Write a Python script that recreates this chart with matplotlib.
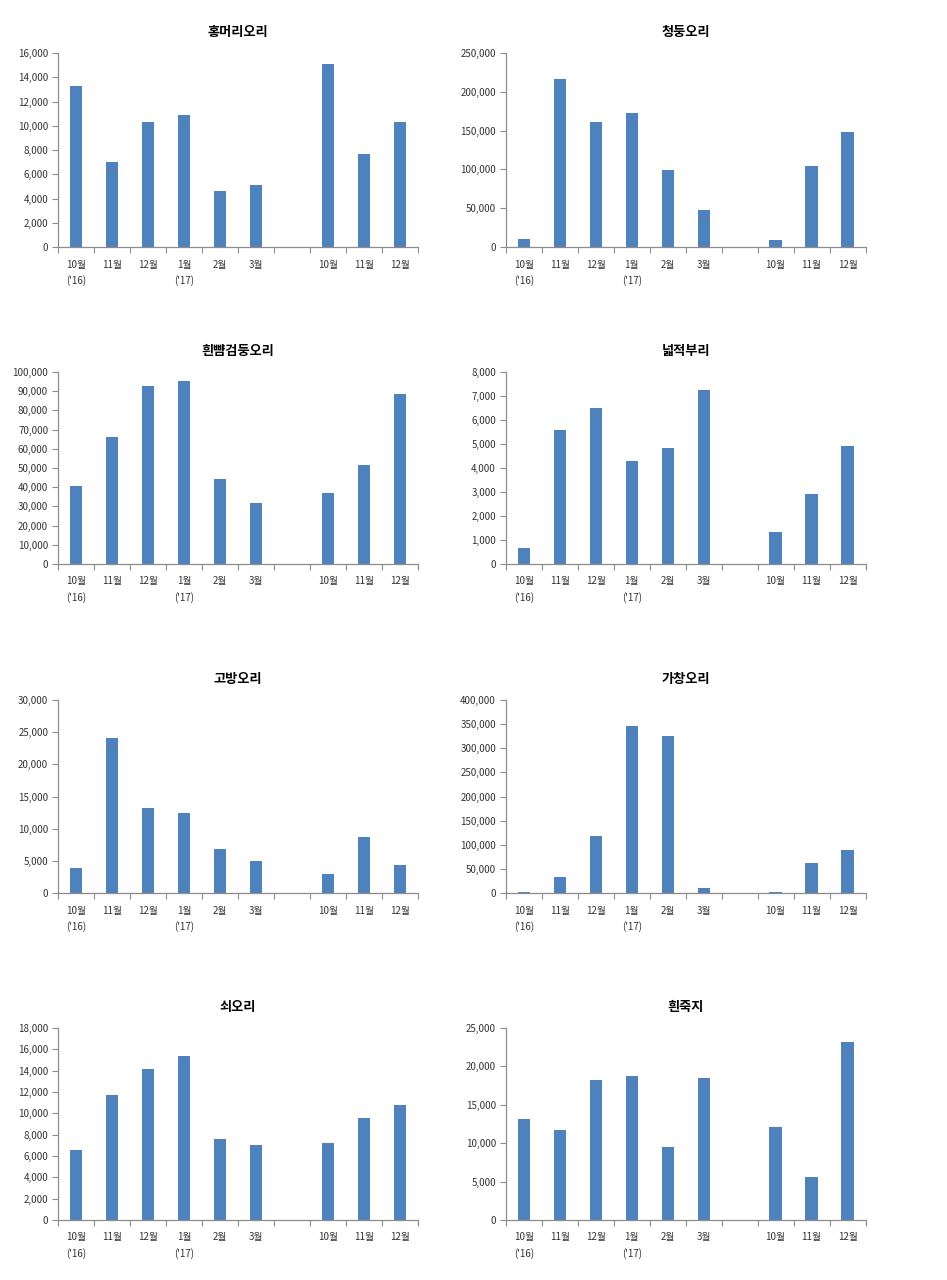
import numpy as np
import matplotlib
matplotlib.use("Agg")
import matplotlib.pyplot as plt
from matplotlib.ticker import FuncFormatter, FixedLocator

plt.rcParams['font.family'] = ['Noto Sans CJK KR', 'DejaVu Sans']

months = ["10월\n('16)", "11월", "12월", "1월\n('17)", "2월", "3월", "", "10월", "11월", "12월"]
gap = np.nan

species = ["홍머리오리", "청둥오리", "흰뺨검둥오리", "넓적부리",
           "고방오리", "가창오리", "쇠오리", "흰죽지"]

wigeon = [13300, 7000, 10300, 10900, 4650, 5100, gap, 15100, 7650, 10350]
mallard = [10000, 216500, 160700, 172300, 98800, 47300, gap, 8600, 104800, 147800]
spotbill = [40700, 66200, 92700, 95300, 44500, 31500, gap, 36900, 51500, 88700]
shoveler = [665, 5590, 6500, 4300, 4850, 7250, gap, 1330, 2910, 4935]
pintail = [3950, 24130, 13180, 12510, 6900, 4930, gap, 3010, 8670, 4360]
baikal = [2800, 33900, 118300, 346700, 324600, 9700, gap, 2500, 62300, 88600]
teal = [6520, 11670, 14130, 15380, 7550, 7050, gap, 7210, 9580, 10790]
pochard = [13170, 11740, 18240, 18800, 9490, 18460, gap, 12050, 5630, 23220]

series = [wigeon, mallard, spotbill, shoveler, pintail, baikal, teal, pochard]
y_max = [16000, 250000, 100000, 8000, 30000, 400000, 18000, 25000]
y_step = [2000, 50000, 10000, 1000, 5000, 50000, 2000, 5000]

BAR = "#4f81bd"
AXIS = "#8c8c8c"

fig = plt.figure(figsize=(9.47, 12.8), dpi=100)

lefts = [0.0612, 0.534]
bottoms = [0.807, 0.5594, 0.3023, 0.0469]
heights = [0.1516, 0.150, 0.1508, 0.150]
width = 0.380

x = np.arange(len(months))

for i, (name, vals) in enumerate(zip(species, series)):
    row, col = divmod(i, 2)
    ax = fig.add_axes([lefts[col], bottoms[row], width, heights[row]])
    ax.bar(x, vals, width=0.34, color=BAR)
    ax.set_xlim(-0.5, len(months) - 0.5)
    ax.set_ylim(0, y_max[i])
    ax.set_yticks(np.arange(0, y_max[i] + 1, y_step[i]))
    ax.yaxis.set_major_formatter(FuncFormatter(lambda v, p: f"{int(v):,}"))

    # category boundaries carry the tick marks, labels sit at centres
    ax.xaxis.set_major_locator(FixedLocator(np.arange(-0.5, len(months), 1.0)))
    ax.xaxis.set_major_formatter(FuncFormatter(lambda v, p: ""))
    ax.set_xticks(x, minor=True)
    ax.set_xticklabels(months, minor=True, fontsize=7, color="#333333",
                       linespacing=1.6, va="top")
    ax.tick_params(axis="x", which="minor", length=0, pad=9)
    ax.tick_params(axis="x", which="major", length=4, direction="out", color=AXIS)
    ax.tick_params(axis="y", length=4, direction="out", color=AXIS,
                   labelsize=7, labelcolor="#333333", pad=3)

    for s in ("top", "right"):
        ax.spines[s].set_visible(False)
    for s in ("left", "bottom"):
        ax.spines[s].set_color(AXIS)
        ax.spines[s].set_linewidth(0.9)

    ax.set_title(name, fontsize=9.5, fontweight="bold", pad=12)

fig.savefig("out.png", dpi=100)
